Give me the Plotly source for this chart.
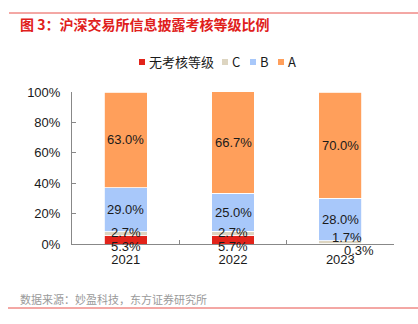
import plotly.graph_objects as go

years = ["2021", "2022", "2023"]
series_names = ["无考核等级", "C", "B", "A"]
none_vals = [5.3, 5.7, 0.3]
c_vals = [2.7, 2.7, 1.7]
b_vals = [29.0, 25.0, 28.0]
a_vals = [63.0, 66.7, 70.0]
y_ticks = [0, 20, 40, 60, 80, 100]

colors = ["#E2231A", "#DDD5C1", "#A8C8FA", "#FF9F5B"]
font_family = "Liberation Sans, Arial, Noto Sans CJK SC, sans-serif"
cjk_family = "Noto Sans CJK SC, Liberation Sans, sans-serif"

W, H = 418, 324
L, R, T, B = 72, 24, 92, 80
pw, ph = W - L - R, H - T - B


def px_x(px):
    return (px - L) / pw


def px_y(py):
    return 1 - (py - T) / ph


fig = go.Figure()
all_vals = [none_vals, c_vals, b_vals, a_vals]
for name, vals, col in zip(series_names, all_vals, colors):
    fig.add_trace(go.Bar(
        x=years, y=vals, name=name,
        marker=dict(color=col, line=dict(color="white", width=0.8)),
        width=0.4, showlegend=False,
    ))

annotations = []
# labels centred in the B and A segments
for i, yr in enumerate(years):
    base_b = none_vals[i] + c_vals[i]
    annotations.append(dict(x=i, y=base_b + b_vals[i] / 2, text=f"{b_vals[i]:.1f}%",
                            showarrow=False, xref="x", yref="y"))
    base_a = base_b + b_vals[i]
    annotations.append(dict(x=i, y=base_a + a_vals[i] / 2, text=f"{a_vals[i]:.1f}%",
                            showarrow=False, xref="x", yref="y"))

# small-segment labels, nudged so they stay readable
c_shift = [(0, 1), (0, 1), (7, 5)]
n_shift = [(0, -7), (0, -7), (19, -7)]
for i, yr in enumerate(years):
    annotations.append(dict(x=i, y=none_vals[i] + c_vals[i] / 2, text=f"{c_vals[i]:.1f}%",
                            showarrow=False, xref="x", yref="y",
                            xshift=c_shift[i][0], yshift=c_shift[i][1]))
    annotations.append(dict(x=i, y=none_vals[i] / 2, text=f"{none_vals[i]:.1f}%",
                            showarrow=False, xref="x", yref="y",
                            xshift=n_shift[i][0], yshift=n_shift[i][1]))

# title and source
annotations.append(dict(x=px_x(18), y=px_y(24), xref="paper", yref="paper",
                        text="图 3：沪深交易所信息披露考核等级比例",
                        showarrow=False, xanchor="left", yanchor="middle",
                        font=dict(family=cjk_family, size=14, color="#E0201B", weight="bold")))
annotations.append(dict(x=px_x(18), y=px_y(299), xref="paper", yref="paper",
                        text="数据来源：妙盈科技，东方证券研究所",
                        showarrow=False, xanchor="left", yanchor="middle",
                        font=dict(family=cjk_family, size=11, color="#9A9A9A")))

shapes = [
    dict(type="line", xref="paper", yref="paper",
         x0=px_x(9), x1=px_x(418), y0=px_y(13), y1=px_y(13),
         line=dict(color="#E8504A", width=1)),
    dict(type="line", xref="paper", yref="paper",
         x0=px_x(8), x1=px_x(418), y0=px_y(308), y1=px_y(308),
         line=dict(color="#E8504A", width=1)),
]

# compact legend row: small square + label
legend_sq_x = [139, 222, 250, 278]
legend_y = 62
for name, col, sx in zip(series_names, colors, legend_sq_x):
    shapes.append(dict(type="rect", xref="paper", yref="paper",
                       x0=px_x(sx), x1=px_x(sx + 6), y0=px_y(legend_y + 3), y1=px_y(legend_y - 3),
                       fillcolor=col, line=dict(width=0)))
    annotations.append(dict(x=px_x(sx + 8), y=px_y(legend_y), xref="paper", yref="paper",
                            text=name, showarrow=False, xanchor="left", yanchor="middle",
                            font=dict(family=cjk_family, size=13, color="#1A1A1A")))

fig.update_layout(
    barmode="stack",
    width=W, height=H,
    margin=dict(l=L, r=R, t=T, b=B),
    paper_bgcolor="white", plot_bgcolor="white",
    font=dict(family=font_family, size=13, color="#1A1A1A"),
    showlegend=False,
    xaxis=dict(type="category", range=[-0.5, 2.5], tickson="boundaries", ticks="inside",
               ticklen=4, tickcolor="#888888", showline=True, linecolor="#888888",
               linewidth=1, showgrid=False, tickfont=dict(size=13), ticklabelstandoff=3),
    yaxis=dict(range=[0, 100], tickvals=y_ticks, ticktext=[f"{v}%" for v in y_ticks],
               ticks="inside", ticklen=4, tickcolor="#888888", showline=True,
               linecolor="#888888", linewidth=1, showgrid=False, zeroline=False,
               tickfont=dict(size=13), ticklabelstandoff=8),
    annotations=annotations,
    shapes=shapes,
    bargap=0.6,
)

fig.write_html("out.html")
